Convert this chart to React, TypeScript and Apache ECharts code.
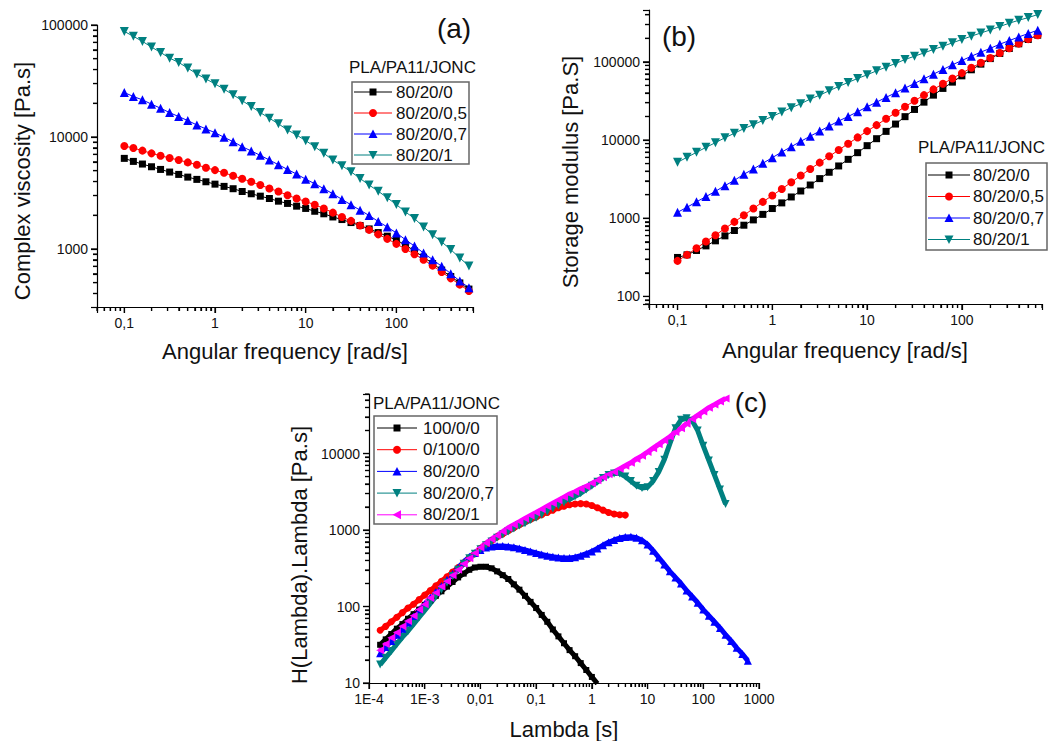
import React, { useEffect, useRef } from 'react';
import * as echarts from 'echarts';

const FONT = '"Liberation Sans", Arial, Helvetica, sans-serif';

// ---------- (a) and (b): angular frequency sweep ----------
const freq = [0.1, 0.1259, 0.1585, 0.1995, 0.2512, 0.3162, 0.3981, 0.5012, 0.631, 0.7943,
  1, 1.259, 1.585, 1.995, 2.512, 3.162, 3.981, 5.012, 6.31, 7.943,
  10, 12.59, 15.85, 19.95, 25.12, 31.62, 39.81, 50.12, 63.1, 79.43,
  100, 125.9, 158.5, 199.5, 251.2, 316.2, 398.1, 501.2, 631];

const abNames = ['80/20/0', '80/20/0,5', '80/20/0,7', '80/20/1'];

// (a) complex viscosity [Pa.s]
const eta_80_20_0 = [6440, 6050, 5730, 5420, 5130, 4860, 4630, 4380, 4180, 3980, 3790, 3620, 3450, 3260, 3110, 2960, 2820, 2670, 2550, 2410, 2300, 2170, 2060, 1930, 1830, 1720, 1620, 1510, 1400, 1300, 1200, 1085, 960, 845, 740, 648, 567, 497, 438];
const eta_80_20_05 = [8300, 7970, 7550, 7140, 6800, 6490, 6220, 5930, 5650, 5310, 5060, 4790, 4500, 4240, 3980, 3720, 3470, 3260, 3020, 2820, 2650, 2480, 2300, 2110, 1930, 1780, 1620, 1480, 1350, 1230, 1110, 1000, 896, 802, 710, 622, 546, 480, 421];
const eta_80_20_07 = [24950, 22970, 21450, 19630, 18060, 16500, 15200, 14000, 12800, 11800, 10930, 9930, 9080, 8190, 7500, 6850, 6220, 5650, 5130, 4660, 4200, 3820, 3450, 3110, 2770, 2480, 2220, 1990, 1760, 1570, 1390, 1210, 1060, 920, 802, 700, 601, 517, 451];
const eta_80_20_1 = [87700, 79200, 71400, 63500, 56900, 50600, 46300, 41200, 36600, 33000, 29800, 26700, 23800, 21100, 18700, 16500, 14700, 13100, 11550, 10400, 9270, 8190, 7140, 6220, 5540, 4890, 4260, 3720, 3280, 2860, 2490, 2140, 1870, 1570, 1340, 1155, 986, 830, 705];

// (b) storage modulus
const gp_80_20_0 = [315, 340, 387, 443, 514, 595, 696, 814, 952, 1120, 1330, 1570, 1870, 2230, 2660, 3210, 3870, 4660, 5660, 6890, 8470, 10400, 12900, 16000, 19900, 24600, 30500, 37500, 45700, 55000, 66200, 79100, 93400, 110000, 128000, 148000, 170000, 193000, 219000];
const gp_80_20_05 = [285, 340, 414, 504, 607, 738, 898, 1090, 1330, 1620, 1950, 2370, 2880, 3510, 4260, 5140, 6190, 7450, 8980, 10800, 13000, 15500, 18700, 22300, 26600, 31800, 37500, 44400, 52400, 61300, 71700, 83800, 97100, 112000, 130000, 149000, 171000, 195000, 219000];
const gp_80_20_07 = [1190, 1380, 1620, 1890, 2210, 2610, 3050, 3650, 4260, 5040, 5950, 7030, 8220, 9620, 11200, 13000, 15100, 17500, 20000, 23000, 26600, 30500, 35100, 40200, 46100, 52900, 60700, 69600, 79800, 91600, 104000, 118000, 133000, 149000, 168000, 187000, 208000, 230000, 254000];
const gp_80_20_1 = [5190, 6010, 6960, 8060, 9250, 10700, 12200, 14000, 15700, 17800, 20000, 22800, 25900, 29100, 33400, 37500, 42700, 48400, 54500, 61300, 68200, 76700, 85500, 95300, 107000, 118000, 130000, 144000, 158000, 175000, 193000, 213000, 234000, 256000, 283000, 312000, 340000, 368000, 402000];

// ---------- (c): relaxation spectrum ----------
const lambda = [1.585e-4, 1.995e-4, 2.512e-4, 3.162e-4, 3.981e-4, 5.012e-4, 6.31e-4, 7.943e-4,
  1e-3, 1.259e-3, 1.585e-3, 1.995e-3, 2.512e-3, 3.162e-3, 3.981e-3, 5.012e-3, 6.31e-3, 7.943e-3,
  0.01, 0.01259, 0.01585, 0.01995, 0.02512, 0.03162, 0.03981, 0.05012, 0.0631, 0.07943,
  0.1, 0.1259, 0.1585, 0.1995, 0.2512, 0.3162, 0.3981, 0.5012, 0.631, 0.7943,
  1, 1.259, 1.585, 1.995, 2.512, 3.162, 3.981, 5.012, 6.31, 7.943,
  10, 12.59, 15.85, 19.95, 25.12, 31.62, 39.81, 50.12, 63.1, 79.43,
  100, 125.9, 158.5, 199.5, 251.2, 316.2, 398.1, 501.2, 631];

const cNames = ['100/0/0', '0/100/0', '80/20/0', '80/20/0,7', '80/20/1'];

const h_100_0_0 = [31.6, 37.2, 43.7, 51.3, 58.9, 69.2, 79.4, 91.2, 105, 120, 138, 158, 182, 209, 240, 269, 302, 324, 331, 331, 316, 288, 257, 229, 195, 166, 138, 115, 95.5, 77.6, 63.1, 50.1, 40.7, 33.1, 26.9, 22.4, 18.2, 14.8, 12.0, 9.8];
const h_0_100_0 = [49.0, 55.0, 63.1, 72.4, 83.2, 95.5, 107, 123, 141, 162, 186, 214, 245, 282, 324, 372, 427, 490, 575, 646, 724, 813, 891, 977, 1070, 1175, 1288, 1380, 1479, 1585, 1698, 1820, 1950, 2042, 2138, 2188, 2213, 2188, 2089, 1950, 1820, 1698, 1622, 1585, 1567];
const h_80_20_0 = [24.5, 29.5, 35.5, 42.7, 51.3, 61.7, 74.1, 89.1, 107, 129, 155, 186, 224, 269, 324, 380, 447, 501, 550, 589, 610, 617, 617, 610, 596, 575, 550, 525, 501, 479, 462, 447, 437, 432, 432, 442, 462, 490, 525, 575, 631, 692, 741, 785, 813, 817, 794, 733, 646, 537, 437, 355, 288, 240, 200, 162, 135, 112, 91.2, 75.9, 63.1, 52.5, 42.7, 35.5, 28.8, 24.0, 19.5];
const h_80_20_07 = [17.4, 21.4, 26.3, 32.4, 39.8, 47.9, 58.9, 72.4, 89.1, 110, 135, 166, 204, 251, 302, 363, 427, 490, 562, 631, 708, 794, 871, 955, 1047, 1148, 1230, 1349, 1445, 1585, 1738, 1905, 2089, 2291, 2512, 2754, 3020, 3388, 3802, 4266, 4786, 5248, 5495, 5495, 5012, 4365, 3802, 3548, 3631, 4365, 5754, 8318, 13490, 21380, 27540, 28840, 26920, 19950, 12590, 8128, 5248, 3388, 2188];
const h_80_20_1 = [26.9, 32.4, 38.9, 45.7, 55.0, 64.6, 75.9, 91.2, 107, 129, 151, 182, 214, 257, 302, 363, 427, 501, 589, 676, 759, 851, 955, 1072, 1175, 1288, 1413, 1549, 1698, 1862, 2042, 2239, 2455, 2692, 2951, 3162, 3467, 3715, 4074, 4467, 4898, 5370, 5754, 6310, 6918, 7586, 8511, 9333, 10470, 11750, 13180, 14790, 16600, 19050, 21380, 24550, 28180, 31620, 35480, 39810, 43650, 47860, 52480];

// tick labels (exponent -> text)
const xTickExpAB = [-1, 0, 1, 2];
const xTickTextAB = ['0,1', '1', '10', '100'];
const yTickExpA = [3, 4, 5];
const yTickTextA = ['1000', '10000', '100000'];
const yTickExpB = [2, 3, 4, 5];
const yTickTextB = ['100', '1000', '10000', '100000'];
const xTickExpC = [-4, -3, -2, -1, 0, 1, 2, 3];
const xTickTextC = ['1E-4', '1E-3', '0,01', '0,1', '1', '10', '100', '1000'];
const yTickExpC = [1, 2, 3, 4];
const yTickTextC = ['10', '100', '1000', '10000'];

type Sty = { color: string; symbol: string; size: number; rotate: number; shape: 'rect' | 'circle' | 'up' | 'down' | 'left' };
const BLACK: Sty = { color: '#000000', symbol: 'rect', size: 7, rotate: 0, shape: 'rect' };
const RED: Sty = { color: '#ff0000', symbol: 'circle', size: 8, rotate: 0, shape: 'circle' };
const BLUE: Sty = { color: '#0000ff', symbol: 'triangle', size: 9, rotate: 0, shape: 'up' };
const TEAL: Sty = { color: '#008080', symbol: 'triangle', size: 9, rotate: 180, shape: 'down' };
const MAGENTA: Sty = { color: '#ff00ff', symbol: 'triangle', size: 9, rotate: 90, shape: 'left' };

const abStyles = [BLACK, RED, BLUE, TEAL];
const cStyles = [BLACK, RED, BLUE, TEAL, MAGENTA];

function fmt(exps: number[], texts: string[]) {
  return (v: number) => {
    const e = Math.log10(v);
    const r = Math.round(e);
    if (Math.abs(e - r) > 1e-4) return '';
    const i = exps.indexOf(r);
    return i >= 0 ? texts[i] : '';
  };
}

// decade/sub-decade tick values of a log axis (axis decoration, not data)
function tickVals(min: number, max: number): [number, number][] {
  const out: [number, number][] = [];
  for (let e = Math.floor(Math.log10(min)); e <= Math.ceil(Math.log10(max)); e++) {
    for (let m = 1; m <= 9; m++) {
      const v = m * Math.pow(10, e);
      if (v >= min * 0.999 && v <= max * 1.001) out.push([v, m === 1 ? 1 : 0]);
    }
  }
  return out;
}

function tickScatter(idx: number, r: { xMin: number; xMax: number; yMin: number; yMax: number }, axis: 'x' | 'y', major: boolean) {
  const len = major ? 6 : 4;
  const vals = (axis === 'x' ? tickVals(r.xMin, r.xMax) : tickVals(r.yMin, r.yMax)).filter(t => (t[1] === 1) === major);
  return {
    type: 'scatter',
    xAxisIndex: idx,
    yAxisIndex: idx,
    silent: true,
    clip: false,
    z: 10,
    symbol: 'rect',
    symbolSize: axis === 'x' ? [1.2, len] : [len, 1.2],
    symbolOffset: axis === 'x' ? [0, len / 2] : [-len / 2, 0],
    itemStyle: { color: '#000', opacity: 1 },
    emphasis: { disabled: true },
    data: vals.map(t => (axis === 'x' ? [t[0], r.yMin] : [r.xMin, t[0]])),
  };
}

function lineSeries(name: string, xs: number[], ys: number[], st: Sty, idx: number, dense = false) {
  return {
    type: 'line',
    name,
    xAxisIndex: idx,
    yAxisIndex: idx,
    data: ys.map((y, i) => [xs[i], y]),
    symbol: st.symbol,
    symbolSize: dense ? st.size - 1 : st.size,
    symbolRotate: st.rotate,
    showAllSymbol: true,
    itemStyle: { color: st.color, borderWidth: 0 },
    lineStyle: { color: st.color, width: dense ? 5 : 1 },
    emphasis: { disabled: true },
    silent: true,
  };
}

function axisDef(idx: number, min: number, max: number, exps: number[], texts: string[]) {
  return {
    type: 'log', logBase: 10, gridIndex: idx, min, max,
    axisLine: { show: true, lineStyle: { color: '#000', width: 1.2 } },
    axisTick: { show: true, length: 6, lineStyle: { color: '#000', width: 1.2 } },
    minorTick: { show: true, splitNumber: 9, length: 4, lineStyle: { color: '#000', width: 1.2 } },
    splitLine: { show: false },
    axisLabel: { formatter: fmt(exps, texts), color: '#111', fontSize: 14, fontFamily: FONT, margin: 9 },
  };
}

function marker(shape: Sty['shape'], cx: number, cy: number, color: string) {
  if (shape === 'rect') return { type: 'rect', shape: { x: cx - 3.5, y: cy - 3.5, width: 7, height: 7 }, style: { fill: color } };
  if (shape === 'circle') return { type: 'circle', shape: { cx, cy, r: 4 }, style: { fill: color } };
  let pts: number[][];
  if (shape === 'up') pts = [[cx, cy - 4.5], [cx + 4.5, cy + 4], [cx - 4.5, cy + 4]];
  else if (shape === 'down') pts = [[cx, cy + 4.5], [cx + 4.5, cy - 4], [cx - 4.5, cy - 4]];
  else pts = [[cx - 4.5, cy], [cx + 4, cy - 4.5], [cx + 4, cy + 4.5]];
  return { type: 'polygon', shape: { points: pts }, style: { fill: color } };
}

function legend(cfg: {
  boxX: number; boxY: number; boxW: number; boxH: number; titleX: number; titleY: number;
  row0: number; rowGap: number; lx1: number; lx2: number; mx: number; tx: number;
  names: string[]; styles: Sty[];
}) {
  const els: any[] = [];
  els.push({ type: 'text', x: cfg.titleX, y: cfg.titleY, style: { text: 'PLA/PA11/JONC', fontSize: 17, fontFamily: FONT, fill: '#111', align: 'left', verticalAlign: 'middle' } });
  els.push({ type: 'rect', shape: { x: cfg.boxX, y: cfg.boxY, width: cfg.boxW, height: cfg.boxH }, style: { fill: 'transparent', stroke: '#666', lineWidth: 1.5 } });
  cfg.names.forEach((n, i) => {
    const y = cfg.row0 + i * cfg.rowGap;
    const st = cfg.styles[i];
    els.push({ type: 'line', shape: { x1: cfg.lx1, y1: y, x2: cfg.lx2, y2: y }, style: { stroke: st.color, lineWidth: 1 } });
    els.push(marker(st.shape, cfg.mx, y, st.color));
    els.push({ type: 'text', x: cfg.tx, y, style: { text: n, fontSize: 17, fontFamily: FONT, fill: '#111', align: 'left', verticalAlign: 'middle' } });
  });
  return els;
}

function label(text: string, x: number, y: number, size: number, rot = 0) {
  return { type: 'text', x, y, rotation: rot, style: { text, fontSize: size, fontFamily: FONT, fill: '#111', align: 'center', verticalAlign: 'middle' } };
}

export default function App() {
  const ref = useRef<HTMLDivElement>(null);
  useEffect(() => {
    if (!ref.current) return;
    const chart = echarts.init(ref.current, undefined, { renderer: 'svg' });
    const ranges = [
      { xMin: 0.05, xMax: 700, yMin: 303, yMax: 100000 },
      { xMin: 0.05, xMax: 700, yMin: 80, yMax: 460000 },
      { xMin: 1e-4, xMax: 1000, yMin: 10, yMax: 60000 },
    ];
    const [A, B, C] = ranges;

    const etaData = [eta_80_20_0, eta_80_20_05, eta_80_20_07, eta_80_20_1];
    const gpData = [gp_80_20_0, gp_80_20_05, gp_80_20_07, gp_80_20_1];
    const hData = [h_100_0_0, h_0_100_0, h_80_20_0, h_80_20_07, h_80_20_1];

    const series: any[] = [];
    etaData.forEach((d, i) => series.push(lineSeries(abNames[i], freq, d, abStyles[i], 0)));
    gpData.forEach((d, i) => series.push(lineSeries(abNames[i], freq, d, abStyles[i], 1)));
    hData.forEach((d, i) => series.push(lineSeries(cNames[i], lambda, d, cStyles[i], 2, true)));
    ranges.forEach((r, gi) => {
      series.push(tickScatter(gi, r, 'x', true));
      series.push(tickScatter(gi, r, 'x', false));
      series.push(tickScatter(gi, r, 'y', true));
      series.push(tickScatter(gi, r, 'y', false));
    });

    const graphic: any[] = [
      label('Complex viscosity [Pa.s]', 22, 181, 22, Math.PI / 2),
      label('Angular frequency [rad/s]', 285, 351, 22),
      label('(a)', 454, 28, 28),
      label('Storage modulus [Pa.S]', 570, 172, 22, Math.PI / 2),
      label('Angular frequency [rad/s]', 845, 350, 22),
      label('(b)', 679, 36, 28),
      label('H(Lambda).Lambda [Pa.s]', 299, 555, 22, Math.PI / 2),
      label('Lambda [s]', 564, 729, 22),
      label('(c)', 751, 402, 28),
      ...legend({ boxX: 352, boxY: 82, boxW: 117, boxH: 82, titleX: 349, titleY: 67, row0: 92, rowGap: 21, lx1: 354, lx2: 392, mx: 373, tx: 396, names: abNames, styles: abStyles }),
      ...legend({ boxX: 926, boxY: 163, boxW: 121, boxH: 87, titleX: 918, titleY: 147, row0: 175, rowGap: 21.5, lx1: 928, lx2: 970, mx: 949, tx: 973, names: abNames, styles: abStyles }),
      ...legend({ boxX: 374, boxY: 416, boxW: 123, boxH: 108, titleX: 373, titleY: 403, row0: 428, rowGap: 21.7, lx1: 377, lx2: 417, mx: 397, tx: 423, names: cNames, styles: cStyles }),
    ];

    chart.setOption({
      animation: false,
      textStyle: { fontFamily: FONT },
      grid: [
        { left: 97, top: 25, width: 376, height: 282 },
        { left: 649, top: 10, width: 393, height: 294 },
        { left: 369, top: 394, width: 390, height: 289 },
      ],
      xAxis: [
        axisDef(0, A.xMin, A.xMax, xTickExpAB, xTickTextAB),
        axisDef(1, B.xMin, B.xMax, xTickExpAB, xTickTextAB),
        axisDef(2, C.xMin, C.xMax, xTickExpC, xTickTextC),
      ],
      yAxis: [
        axisDef(0, A.yMin, A.yMax, yTickExpA, yTickTextA),
        axisDef(1, B.yMin, B.yMax, yTickExpB, yTickTextB),
        axisDef(2, C.yMin, C.yMax, yTickExpC, yTickTextC),
      ],
      series,
      graphic,
    });

    return () => chart.dispose();
  }, []);
  return <div ref={ref} style={{ position: 'fixed', left: 0, top: 0, width: 1057, height: 741, background: '#fff' }} />;
}
